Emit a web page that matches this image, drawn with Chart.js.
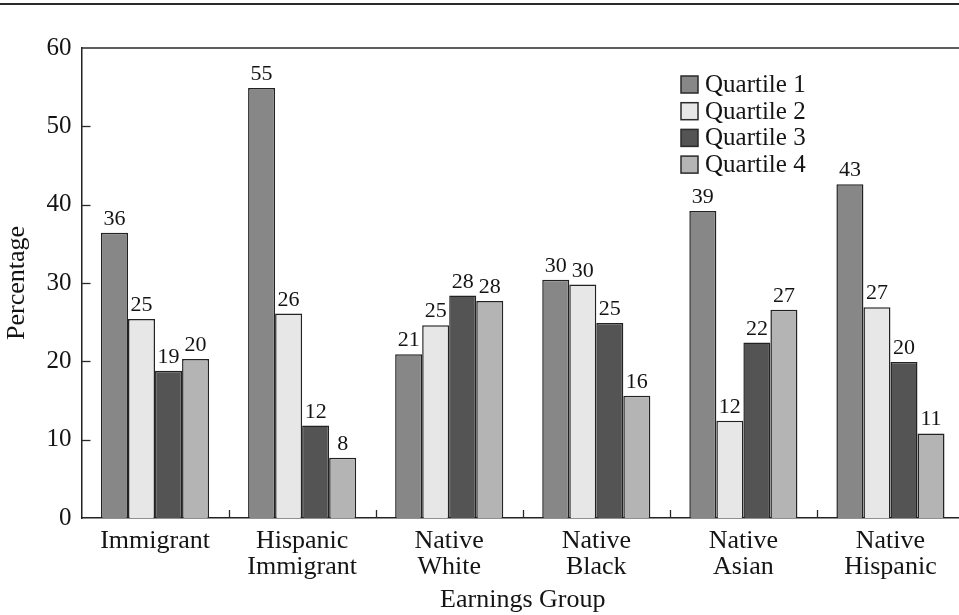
<!DOCTYPE html>
<html>
<head>
<meta charset="utf-8">
<script src="https://cdn.jsdelivr.net/npm/chart.js@4.4.1/dist/chart.umd.min.js"></script>
<style>
  html, body { margin: 0; padding: 0; background: #fff; overflow: hidden; width: 959px; height: 615px; }
  #wrap { width: 970px; height: 615px; }
</style>
</head>
<body>
<div id="wrap"><canvas id="c" width="970" height="615"></canvas></div>
<script>
const categories = [["Immigrant"], ["Hispanic", "Immigrant"], ["Native", "White"], ["Native", "Black"], ["Native", "Asian"], ["Native", "Hispanic"]];
const seriesNames = ["Quartile 1", "Quartile 2", "Quartile 3", "Quartile 4"];
const quartile1 = [36.4, 54.9, 20.9, 30.4, 39.2, 42.6];
const quartile2 = [25.4, 26.1, 24.6, 29.8, 12.4, 26.9];
const quartile3 = [18.8, 11.8, 28.4, 24.9, 22.4, 19.9];
const quartile4 = [20.3, 7.7, 27.7, 15.6, 26.6, 10.8];
const yTicks = [0, 10, 20, 30, 40, 50, 60];

const FONT = "'Liberation Serif', 'Times New Roman', serif";
const INK = '#141414';
const fills = ['#878787', '#e7e7e7', '#545454', '#b4b4b4'];

const decor = {
  id: 'decor',
  afterDraw(chart) {
    const ctx = chart.ctx;
    const a = chart.chartArea;
    const xs = chart.scales.x, ys = chart.scales.y;
    ctx.save();
    ctx.strokeStyle = '#2a2a2a';
    // page rule at top
    ctx.lineWidth = 2;
    ctx.beginPath(); ctx.moveTo(0, 4); ctx.lineTo(chart.width, 4); ctx.stroke();
    // plot top border
    ctx.lineWidth = 1.5;
    ctx.beginPath(); ctx.moveTo(a.left, a.top); ctx.lineTo(a.right, a.top); ctx.stroke();
    // inward y ticks
    ctx.lineWidth = 1.3;
    yTicks.forEach(v => {
      if (v === 0 || v === 60) return;
      const y = Math.round(ys.getPixelForValue(v)) + 0.5;
      ctx.beginPath(); ctx.moveTo(a.left, y); ctx.lineTo(a.left + 9, y); ctx.stroke();
    });
    // inward x ticks between categories
    for (let i = 1; i < categories.length; i++) {
      const x = Math.round((xs.getPixelForValue(i - 1) + xs.getPixelForValue(i)) / 2) + 0.5;
      ctx.beginPath(); ctx.moveTo(x, a.bottom); ctx.lineTo(x, a.bottom - 8); ctx.stroke();
    }
    // data labels
    ctx.fillStyle = INK;
    ctx.font = "22px " + FONT;
    ctx.textAlign = 'center';
    ctx.textBaseline = 'alphabetic';
    chart.data.datasets.forEach((ds, di) => {
      const meta = chart.getDatasetMeta(di);
      meta.data.forEach((bar, i) => {
        ctx.fillText(String(Math.round(ds.data[i])), bar.x, bar.y - 8);
      });
    });
    // legend
    const lx = 681, ly = 76, step = 26.7, box = 17;
    ctx.font = "25px " + FONT;
    ctx.textAlign = 'left';
    ctx.textBaseline = 'middle';
    chart.data.datasets.forEach((ds, di) => {
      const y = ly + di * step;
      ctx.fillStyle = ds.backgroundColor;
      ctx.fillRect(lx, y, box, box);
      ctx.lineWidth = 1.5;
      ctx.strokeStyle = '#2a2a2a';
      ctx.strokeRect(lx, y, box, box);
      ctx.fillStyle = INK;
      ctx.fillText(ds.label, lx + box + 7, y + box / 2 + 1);
    });
    ctx.restore();
  }
};

const seriesData = [quartile1, quartile2, quartile3, quartile4];
new Chart(document.getElementById('c'), {
  type: 'bar',
  data: {
    labels: categories,
    datasets: seriesNames.map((n, i) => ({
      label: n,
      data: seriesData[i],
      backgroundColor: fills[i],
      borderColor: '#222',
      borderWidth: 1.5,
      categoryPercentage: 0.735,
      barPercentage: 1.0
    }))
  },
  options: {
    responsive: false,
    animation: false,
    devicePixelRatio: 1,
    layout: { padding: { top: 48, right: 6, left: 0, bottom: 0 } },
    plugins: { legend: { display: false }, tooltip: { enabled: false } },
    scales: {
      x: {
        grid: { display: false, drawTicks: false, offset: true },
        border: { display: true, color: '#222', width: 1.5 },
        ticks: { color: INK, font: { family: FONT, size: 26, lineHeight: 1.0 }, padding: 10, maxRotation: 0, autoSkip: false },
        title: { display: true, text: 'Earnings Group', color: INK, font: { family: FONT, size: 26, lineHeight: 1 }, padding: { top: 0, bottom: 2 } },
        afterFit(s) { s.height = 97; }
      },
      y: {
        min: 0, max: 60,
        afterBuildTicks(s) { s.ticks = yTicks.map(v => ({ value: v })); },
        grid: { display: false, drawTicks: false },
        border: { display: true, color: '#222', width: 1.5 },
        ticks: { color: INK, font: { family: FONT, size: 25 }, padding: 10 },
        title: { display: true, text: 'Percentage', color: INK, font: { family: FONT, size: 26, lineHeight: 1 }, padding: { top: 4, bottom: 0 } },
        afterFit(s) { s.width = 81.5; }
      }
    }
  },
  plugins: [decor]
});
</script>
</body>
</html>
